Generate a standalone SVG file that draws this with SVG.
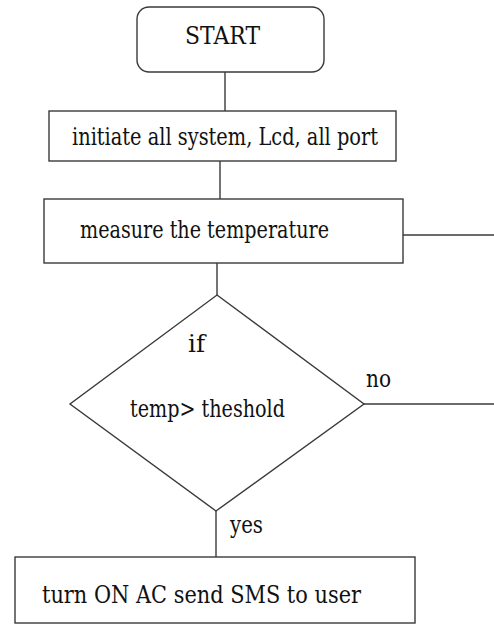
<svg xmlns="http://www.w3.org/2000/svg" width="494" height="624" viewBox="0 0 494 624">
<style>
.s{fill:#fff;stroke:#3a3a3a;stroke-width:1.4}
.l{fill:none;stroke:#3a3a3a;stroke-width:1.4}
.t{font-family:'DejaVu Serif','Liberation Serif','Times New Roman',serif;font-size:24px;fill:#111}
</style>
<rect width="494" height="624" fill="#fff"/>
<g id="connectors">
<line class="l" x1="225" y1="72" x2="225" y2="111"/>
<line class="l" x1="220" y1="161" x2="220" y2="199"/>
<line class="l" x1="217" y1="260" x2="217" y2="295"/>
<line class="l" x1="403" y1="235" x2="494" y2="235"/>
<line class="l" x1="364" y1="404" x2="494" y2="404"/>
<line class="l" x1="216" y1="511" x2="216" y2="562"/>
<text class="t" x="366" y="387" textLength="25" lengthAdjust="spacingAndGlyphs">no</text>
<text class="t" x="230" y="533" textLength="33" lengthAdjust="spacingAndGlyphs">yes</text>
</g>
<g id="start">
<rect class="s" x="137" y="7" width="187" height="65" rx="12"/>
<text class="t" x="185" y="44" textLength="75" lengthAdjust="spacingAndGlyphs">START</text>
</g>
<g id="init">
<rect class="s" x="49" y="111" width="347" height="50"/>
<text class="t" x="72" y="145" textLength="306" lengthAdjust="spacingAndGlyphs">initiate all system, Lcd, all port</text>
</g>
<g id="measure">
<rect class="s" x="44" y="199" width="359" height="64"/>
<text class="t" x="80" y="238" textLength="249" lengthAdjust="spacingAndGlyphs">measure the temperature</text>
</g>
<g id="decision">
<polygon class="s" points="217,295 364,404 216,511 70,404"/>
<text class="t" x="188" y="352" textLength="17" lengthAdjust="spacingAndGlyphs">if</text>
<text class="t" x="130" y="417" textLength="155" lengthAdjust="spacingAndGlyphs">temp&gt; theshold</text>
</g>
<g id="action">
<rect class="s" x="15" y="557" width="400" height="66"/>
<text class="t" x="42" y="603" textLength="319" lengthAdjust="spacingAndGlyphs">turn ON AC send SMS to user</text>
</g>
</svg>
